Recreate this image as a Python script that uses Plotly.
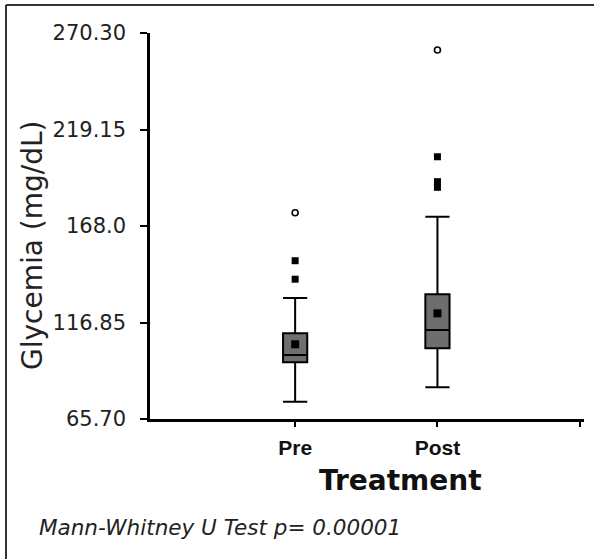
import plotly.graph_objects as go

# ---- data ----
groups = ["Pre", "Post"]
group_pos = [0, 1]
q1 = [95.8, 103.2]
median = [99.6, 112.9]
q3 = [111.1, 131.8]
lower_whisker = [74.9, 82.5]
upper_whisker = [129.8, 172.9]
means = [105.3, 121.7]
outliers_x = [0, 0, 1, 1, 1]
outliers_y = [139.8, 149.6, 188.5, 191.5, 204.7]
extremes_x = [0, 1]
extremes_y = [175.0, 261.3]
y_ticks = [65.70, 116.85, 168.0, 219.15, 270.30]
y_ticktext = ["65.70", "116.85", "168.0", "219.15", "270.30"]

W, H = 594, 559
ML, MR, MT, MB = 150, 10, 33, 140
pw, ph = W - ML - MR, H - MT - MB

def px(x):
    return (x - ML) / pw

def py(y):
    return (H - MB - y) / ph

fig = go.Figure()
fig.add_trace(go.Box(
    x=group_pos, q1=q1, median=median, q3=q3,
    lowerfence=lower_whisker, upperfence=upper_whisker,
    fillcolor="#6e6e6e", line=dict(color="black", width=2),
    width=0.17, whiskerwidth=1, boxpoints=False, showlegend=False,
))
fig.add_trace(go.Scatter(
    x=group_pos, y=means, mode="markers",
    marker=dict(symbol="square", size=8, color="black"), showlegend=False,
))
fig.add_trace(go.Scatter(
    x=outliers_x, y=outliers_y, mode="markers",
    marker=dict(symbol="square", size=7, color="black"), showlegend=False,
))
fig.add_trace(go.Scatter(
    x=extremes_x, y=extremes_y, mode="markers",
    marker=dict(symbol="circle-open", size=6, color="black", line=dict(width=1.6)),
    showlegend=False,
))

fig.update_layout(
    width=W, height=H,
    margin=dict(l=ML, r=MR, t=MT, b=MB),
    paper_bgcolor="white", plot_bgcolor="white",
    font=dict(family="DejaVu Sans, Verdana", color="#222"),
    xaxis=dict(
        range=[-1.02, 2.03], tickvals=[0, 1, 2],
        ticktext=["<b>" + groups[0] + "</b>", "<b>" + groups[1] + "</b>", ""],
        showline=True, linecolor="black", linewidth=2.5,
        ticks="outside", ticklen=5, tickwidth=2, tickcolor="black",
        showgrid=False, zeroline=False, ticklabelstandoff=3,
        tickfont=dict(family="Liberation Sans Narrow, Arial Narrow, Liberation Sans, Arial", size=21, color="#111"),
    ),
    yaxis=dict(
        range=[65.70, 270.30], tickvals=y_ticks, ticktext=y_ticktext,
        showline=True, linecolor="black", linewidth=2.5,
        ticks="outside", ticklen=7, tickwidth=2, tickcolor="black",
        showgrid=False, zeroline=False, ticklabelstandoff=10,
        tickfont=dict(family="DejaVu Sans, Verdana", size=21, color="#222"),
    ),
    annotations=[
        dict(text="Glycemia (mg/dL)", x=px(33), y=py(246), xref="paper", yref="paper",
             xanchor="center", yanchor="middle", textangle=-90, showarrow=False,
             font=dict(family="DejaVu Sans, Verdana", size=28, color="#222")),
        dict(text="<b>Treatment</b>", x=px(400), y=py(480), xref="paper", yref="paper",
             xanchor="center", yanchor="middle", showarrow=False,
             font=dict(family="DejaVu Sans, Verdana", size=28, color="#111")),
        dict(text="<i>Mann-Whitney U Test p= 0.00001</i>", x=px(37), y=py(527),
             xref="paper", yref="paper", xanchor="left", yanchor="middle", showarrow=False,
             font=dict(family="DejaVu Sans, Verdana", size=21.5, color="#222")),
    ],
    shapes=[
        dict(type="line", xref="paper", yref="paper", x0=px(6), x1=px(594), y0=py(5), y1=py(5),
             line=dict(color="#333", width=2)),
        dict(type="line", xref="paper", yref="paper", x0=px(6), x1=px(6), y0=py(5), y1=py(559),
             line=dict(color="#333", width=2)),
    ],
)

fig.write_html(
    "out.html",
    config={"displayModeBar": False},
    post_script="document.body.style.margin='0';document.body.style.overflow='hidden';",
)
